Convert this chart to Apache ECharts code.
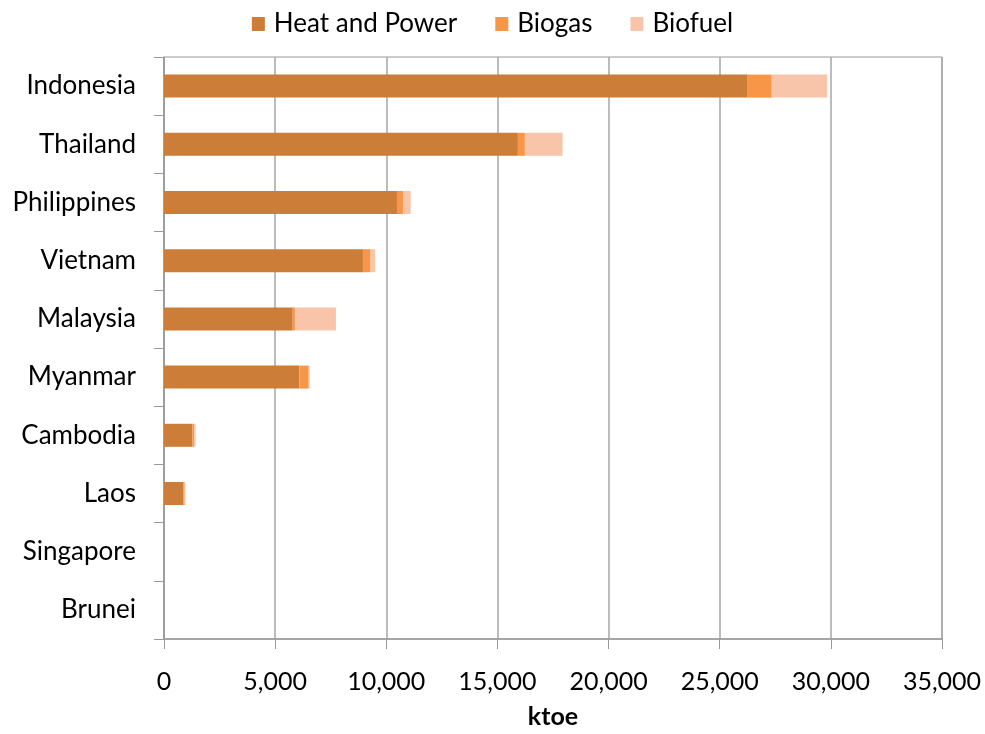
<!DOCTYPE html>
<html>
<head>
<meta charset="utf-8">
<script src="https://cdn.jsdelivr.net/npm/echarts@6/dist/echarts.min.js"></script>
<style>
  html, body { margin: 0; padding: 0; background: #fff; }
  #chart { width: 985px; height: 734px; }
</style>
</head>
<body>
<div id="chart"></div>
<script>
  // 各国生物质能源消费 (ktoe)
  const countries = ['Indonesia', 'Thailand', 'Philippines', 'Vietnam', 'Malaysia',
    'Myanmar', 'Cambodia', 'Laos', 'Singapore', 'Brunei'];
  const heatAndPower = [26260, 15920, 10480, 8950, 5790, 6090, 1275, 870, 0, 0];
  const biogas = [1080, 315, 270, 345, 100, 420, 90, 60, 0, 0];
  const biofuel = [2490, 1695, 345, 210, 1845, 45, 60, 30, 0, 0];
  const xTicks = [0, 5000, 10000, 15000, 20000, 25000, 30000, 35000];

  const font = 'Lato, "Open Sans", sans-serif';
  const chart = echarts.init(document.getElementById('chart'));

  const makeSeries = (name, data, color) => ({
    name: name,
    type: 'bar',
    stack: 'total',
    data: data,
    barWidth: 23,
    itemStyle: { color: color },
  });

  const option = {
    animation: false,
    textStyle: { fontFamily: font },
    legend: {
      top: 6,
      left: 'center',
      itemWidth: 13,
      itemHeight: 14,
      itemGap: 38,
      icon: 'rect',
      textStyle: { fontSize: 26, color: '#000', fontFamily: font, padding: [0, 0, 0, 4] },
      data: ['Heat and Power', 'Biogas', 'Biofuel'],
    },
    grid: {
      left: 164,
      right: 43,
      top: 57,
      bottom: 92,
      show: true,
      borderColor: '#999',
      borderWidth: 1,
    },
    xAxis: {
      type: 'value',
      min: xTicks[0],
      max: xTicks[xTicks.length - 1],
      interval: 5000,
      name: 'ktoe',
      nameLocation: 'middle',
      nameGap: 65,
      nameTextStyle: { fontSize: 25, fontWeight: 'bold', color: '#000', fontFamily: font },
      axisLine: { show: true, lineStyle: { color: '#999', width: 1.5 } },
      axisTick: { show: true, length: 10, lineStyle: { color: '#999' } },
      axisLabel: {
        fontSize: 25,
        color: '#000',
        margin: 30,
        formatter: (v) => v.toLocaleString('en-US'),
      },
      splitLine: { show: true, lineStyle: { color: '#a6a6a6', width: 1.5 } },
    },
    yAxis: {
      type: 'category',
      inverse: true,
      data: countries,
      axisLine: { show: true, lineStyle: { color: '#999', width: 1.5 } },
      axisTick: { show: true, length: 10, lineStyle: { color: '#999' } },
      axisLabel: { fontSize: 26, color: '#000', margin: 28 },
    },
    series: [
      makeSeries('Heat and Power', heatAndPower, '#CC7D37'),
      makeSeries('Biogas', biogas, '#F79646'),
      makeSeries('Biofuel', biofuel, '#F9C5AA'),
    ],
  };
  chart.setOption(option);
</script>
</body>
</html>
